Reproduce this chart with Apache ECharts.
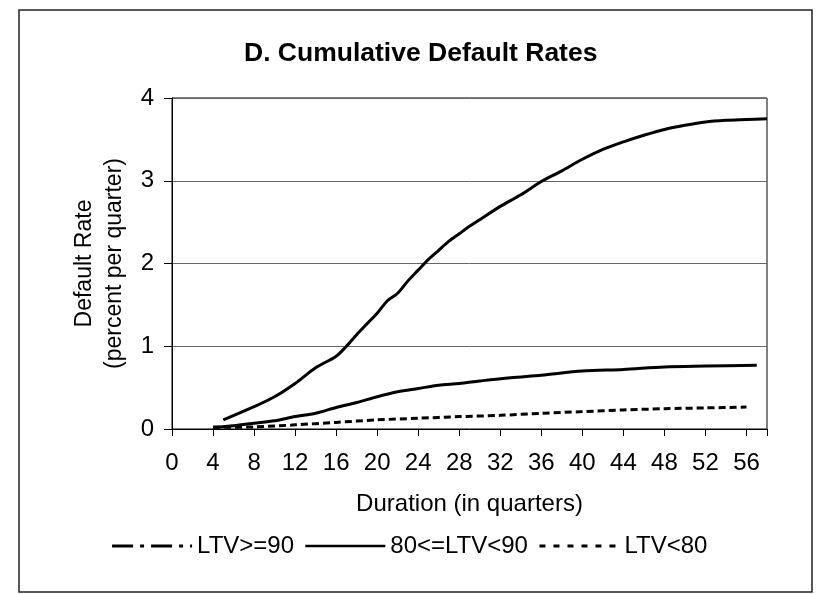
<!DOCTYPE html>
<html>
<head>
<meta charset="utf-8">
<script src="https://cdn.jsdelivr.net/npm/echarts@6/dist/echarts.min.js"></script>
<style>
html,body{margin:0;padding:0;background:#fff;}
#chart{width:818px;height:594px;}
</style>
</head>
<body>
<div id="chart"></div>
<script>
// Data
var seriesNames = ['LTV>=90', '80<=LTV<90', 'LTV<80'];

var ltv90Quarters = [5, 8, 10, 12, 14, 16, 17, 18, 19, 20, 21, 22, 23, 24, 25, 26, 27, 28, 29, 30, 32, 34, 36, 38, 40, 42, 44, 46, 48, 50, 52, 54, 56, 58];
var ltv90Values   = [0.11, 0.27, 0.39, 0.55, 0.74, 0.88, 1.0, 1.14, 1.27, 1.40, 1.55, 1.64, 1.79, 1.92, 2.05, 2.16, 2.27, 2.36, 2.45, 2.53, 2.69, 2.83, 2.99, 3.12, 3.26, 3.38, 3.47, 3.55, 3.62, 3.67, 3.71, 3.73, 3.74, 3.75];

var ltv8090Quarters = [4, 6, 8, 10, 12, 14, 16, 18, 20, 22, 24, 26, 28, 30, 33, 36, 40, 44, 48, 52, 57];
var ltv8090Values   = [0.02, 0.04, 0.07, 0.10, 0.15, 0.19, 0.26, 0.32, 0.39, 0.45, 0.49, 0.53, 0.55, 0.58, 0.62, 0.65, 0.70, 0.72, 0.75, 0.76, 0.77];

var ltv80Quarters = [4, 8, 12, 16, 20, 24, 28, 32, 36, 40, 44, 48, 52, 56];
var ltv80Values   = [0.02, 0.025, 0.05, 0.08, 0.11, 0.13, 0.15, 0.165, 0.19, 0.21, 0.23, 0.245, 0.255, 0.265];

var yTicks = [0, 1, 2, 3, 4];

function pairs(q, v) { return q.map(function (x, i) { return [x, v[i]]; }); }

var FONT = '"Liberation Sans", Arial, Helvetica, sans-serif';
var chart = echarts.init(document.getElementById('chart'), null, {renderer: 'canvas'});

chart.setOption({
  animation: false,
  backgroundColor: '#fff',
  textStyle: {fontFamily: FONT, color: '#000'},
  graphic: [{
    type: 'rect',
    shape: {x: 19, y: 10, width: 793, height: 582},
    style: {fill: 'none', stroke: '#222', lineWidth: 1.5},
    silent: true
  }],
  title: {
    text: 'D. Cumulative Default Rates',
    left: 239, top: 35,
    textStyle: {fontFamily: FONT, fontSize: 26.5, fontWeight: 'bold', color: '#000'}
  },
  grid: {
    left: 172, right: 51, top: 98, bottom: 165,
    show: true, borderColor: '#000', borderWidth: 1, backgroundColor: 'transparent'
  },
  legend: {
    bottom: 31, left: 'center',
    itemWidth: 80, itemHeight: 14, itemGap: 10,
    textStyle: {fontFamily: FONT, fontSize: 24, color: '#000'},
    itemStyle: {color: 'rgba(0,0,0,0)', borderWidth: 0, opacity: 0},
    data: [
      {name: seriesNames[0], lineStyle: {type: [21, 7, 4, 7], width: 3, color: '#000'}},
      {name: seriesNames[1], lineStyle: {type: 'solid', width: 2.5, color: '#000'}},
      {name: seriesNames[2], lineStyle: {type: [6, 8], width: 3, color: '#000'}}
    ]
  },
  xAxis: {
    type: 'value', min: 0, max: 58, interval: 4,
    name: 'Duration (in quarters)', nameLocation: 'middle', nameGap: 63,
    nameTextStyle: {fontFamily: FONT, fontSize: 24, color: '#000'},
    axisLine: {show: true, lineStyle: {color: '#000', width: 1}},
    axisTick: {show: true, inside: false, length: 7, lineStyle: {color: '#000'}},
    axisLabel: {
      fontFamily: FONT, fontSize: 24, color: '#000', margin: 22,
      formatter: function (v) { return v % 4 === 0 ? String(v) : ''; }
    },
    splitLine: {show: false}
  },
  yAxis: {
    type: 'value', min: yTicks[0], max: yTicks[yTicks.length - 1], interval: 1,
    name: 'Default Rate\n(percent per quarter)', nameLocation: 'middle', nameGap: 42, nameRotate: 90,
    nameTextStyle: {fontFamily: FONT, fontSize: 23, color: '#000', lineHeight: 30},
    axisLine: {show: true, lineStyle: {color: '#000', width: 1}},
    axisTick: {show: true, inside: false, length: 8, lineStyle: {color: '#000'}},
    axisLabel: {fontFamily: FONT, fontSize: 24, color: '#000', margin: 18},
    splitLine: {show: true, lineStyle: {color: '#666', width: 1}}
  },
  series: [
    {
      name: seriesNames[0], type: 'line', smooth: 0.3, symbol: 'none',
      data: pairs(ltv90Quarters, ltv90Values),
      lineStyle: {color: '#000', width: 3, type: 'solid'},
      itemStyle: {color: '#000'}
    },
    {
      name: seriesNames[1], type: 'line', smooth: 0.3, symbol: 'none',
      data: pairs(ltv8090Quarters, ltv8090Values),
      lineStyle: {color: '#000', width: 3, type: 'solid'},
      itemStyle: {color: '#000'}
    },
    {
      name: seriesNames[2], type: 'line', smooth: 0.3, symbol: 'none',
      data: pairs(ltv80Quarters, ltv80Values),
      lineStyle: {color: '#000', width: 3, type: [7, 4]},
      itemStyle: {color: '#000'}
    }
  ]
});
</script>
</body>
</html>
